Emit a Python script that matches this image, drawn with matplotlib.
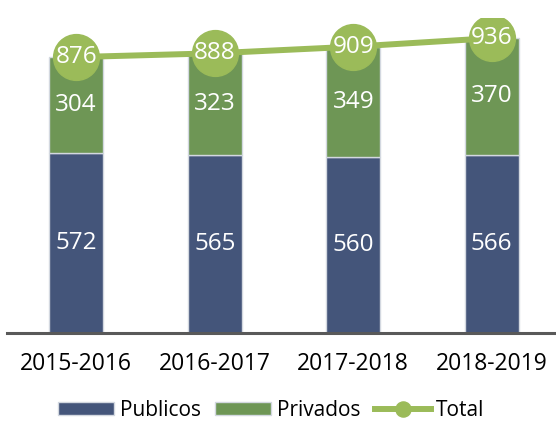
import matplotlib.pyplot as plt

# Datos
periodos = ['2015-2016', '2016-2017', '2017-2018', '2018-2019']
publicos = [572, 565, 560, 566]
privados = [304, 323, 349, 370]
total = [876, 888, 909, 936]

c_pub = '#44557a'
c_priv = '#6e9655'
c_tot = '#9bbb59'

plt.rcParams['font.family'] = ['Open Sans', 'DejaVu Sans']

fig = plt.figure(figsize=(5.56, 4.21), dpi=100)
ax = fig.add_axes([7 / 556, 88 / 421, 554 / 556, 315 / 421])

x = range(len(periodos))
w = 0.39

b1 = ax.bar(x, publicos, width=w, color=c_pub, edgecolor='#d3d8e0', linewidth=1, label='Publicos')
b2 = ax.bar(x, privados, width=w, bottom=publicos, color=c_priv, edgecolor='#d3d8e0', linewidth=1, label='Privados')
ln, = ax.plot(x, total, color=c_tot, linewidth=4.3, marker='o', markersize=33, label='Total', zorder=3)

# Etiquetas
for i in x:
    ax.text(i, publicos[i] / 2, str(publicos[i]), ha='center', va='center',
            color='white', fontsize=17.5)
    ax.text(i, publicos[i] + privados[i] / 2, str(privados[i]), ha='center', va='center',
            color='white', fontsize=17.5)
    ax.text(i, total[i], str(total[i]), ha='center', va='center',
            color='white', fontsize=17.5, zorder=4)

ax.set_xlim(-0.5, 3.5)
ax.set_ylim(0, 1000)
ax.set_xticks(list(x))
ax.set_xticklabels(periodos, fontsize=16.5)
ax.tick_params(axis='x', length=0, pad=14)
ax.set_yticks([])
for s in ['left', 'right', 'top']:
    ax.spines[s].set_visible(False)
ax.spines['bottom'].set_color('#595959')
ax.spines['bottom'].set_linewidth(2.2)

fig.legend([b1, b2, ln], ['Publicos', 'Privados', 'Total'], loc='lower center',
           bbox_to_anchor=(0.488, -0.045), ncol=3, frameon=False,
           fontsize=15, handlelength=2.7, handleheight=0.6, handletextpad=0.25,
           columnspacing=0.7, markerscale=0.33)

fig.savefig('out.png', dpi=100)
